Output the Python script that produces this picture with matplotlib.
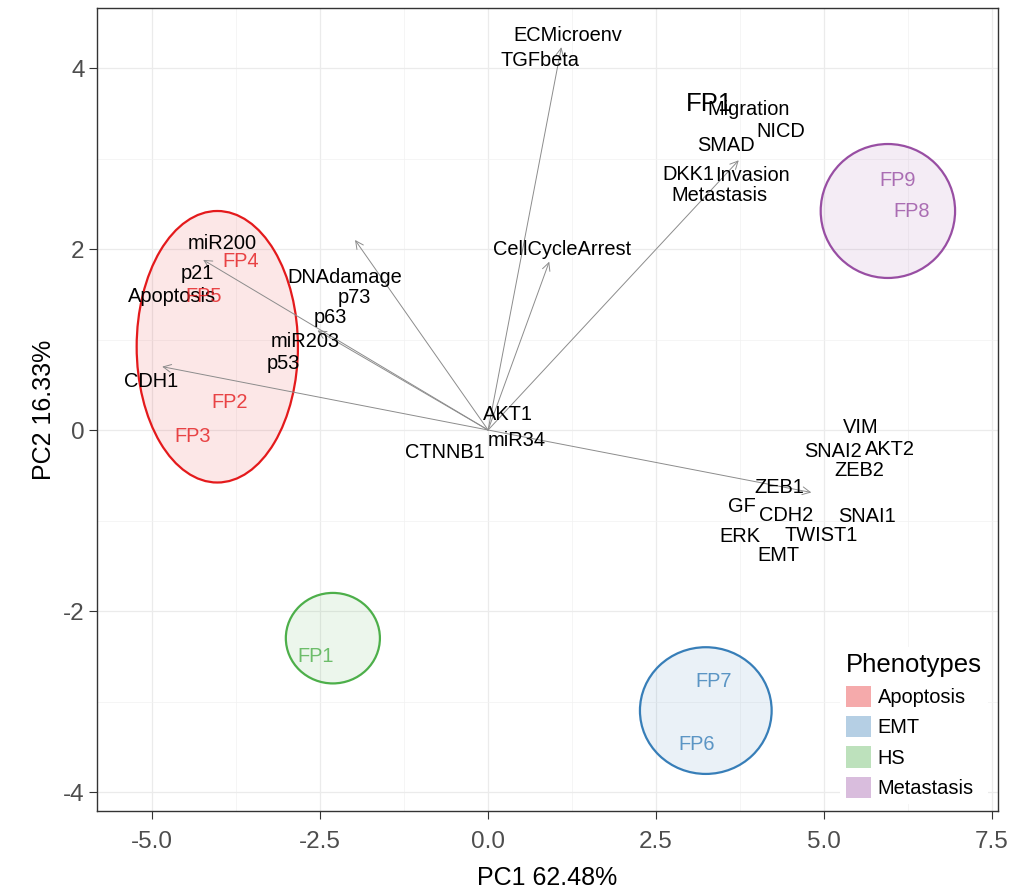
import matplotlib
matplotlib.use("Agg")
import matplotlib.pyplot as plt
from matplotlib.patches import Ellipse, Patch

plt.rcParams['font.family'] = ['Liberation Sans', 'DejaVu Sans']
plt.rcParams['axes.unicode_minus'] = False

# variable loadings (arrow tips)
arrow_x = [1.09, 0.91, 3.73, -1.98, -4.24, -2.54, -4.85, 4.81]
arrow_y = [4.23, 1.86, 2.98, 2.10, 1.88, 1.10, 0.70, -0.69]

# variable labels
var_names = ['ECMicroenv', 'TGFbeta', 'Migration', 'NICD', 'SMAD', 'DKK1', 'Invasion',
             'Metastasis', 'CellCycleArrest', 'miR200', 'p21', 'Apoptosis', 'DNAdamage',
             'p73', 'p63', 'miR203', 'p53', 'CDH1', 'AKT1', 'miR34', 'CTNNB1', 'VIM',
             'SNAI2', 'AKT2', 'ZEB2', 'ZEB1', 'GF', 'CDH2', 'SNAI1', 'ERK', 'TWIST1', 'EMT']
var_x = [1.19, 0.77, 3.87, 4.36, 3.54, 2.98, 3.94, 3.45, 1.10, -3.96, -4.32, -4.70, -2.14,
         -1.99, -2.34, -2.72, -3.05, -5.01, 0.30, 0.43, -0.64, 5.55, 5.13, 5.98, 5.52,
         4.33, 3.78, 4.43, 5.64, 3.74, 4.96, 4.32]
var_y = [4.36, 4.08, 3.54, 3.30, 3.14, 2.82, 2.81, 2.59, 1.99, 2.06, 1.73, 1.48, 1.68,
         1.46, 1.24, 0.98, 0.74, 0.54, 0.17, -0.12, -0.25, 0.03, -0.24, -0.21, -0.45,
         -0.64, -0.85, -0.95, -0.96, -1.18, -1.17, -1.39]

# samples
fp_names = ['FP4', 'FP5', 'FP2', 'FP3', 'FP1', 'FP7', 'FP6', 'FP9', 'FP8']
fp_x = [-3.68, -4.23, -3.84, -4.40, -2.56, 3.36, 3.10, 6.10, 6.31]
fp_y = [1.86, 1.48, 0.30, -0.07, -2.50, -2.78, -3.48, 2.76, 2.41]
fp_group = ['Apoptosis', 'Apoptosis', 'Apoptosis', 'Apoptosis', 'HS', 'EMT', 'EMT',
            'Metastasis', 'Metastasis']

# phenotype ellipses
groups = ['Apoptosis', 'EMT', 'HS', 'Metastasis']
colors = ['#E41A1C', '#377EB8', '#4DAF4A', '#984EA3']
ell_cx = [-4.03, 3.24, -2.31, 5.95]
ell_cy = [0.92, -3.10, -2.30, 2.42]
ell_w = [2.40, 1.96, 1.40, 2.00]
ell_h = [3.00, 1.40, 1.00, 1.48]

fig = plt.figure(figsize=(10.17, 8.89), dpi=100)
ax = fig.add_axes([0.0954, 0.0877, 0.886, 0.903])

for c, cx, cy, w, h in zip(colors, ell_cx, ell_cy, ell_w, ell_h):
    ax.add_patch(Ellipse((cx, cy), w, h, facecolor=c, alpha=0.1, edgecolor='none', zorder=2))
    ax.add_patch(Ellipse((cx, cy), w, h, facecolor='none', edgecolor=c, lw=1.6, zorder=3))

for x, y in zip(arrow_x, arrow_y):
    ax.annotate('', xy=(x, y), xytext=(0, 0),
                arrowprops=dict(arrowstyle='->', color='#8C8C8C', lw=0.7,
                                mutation_scale=14, shrinkA=0, shrinkB=0), zorder=4)

for n, x, y in zip(var_names, var_x, var_y):
    ax.text(x, y, n, ha='center', va='center', fontsize=14.4, color='black', zorder=5)

ax.text(3.30, 3.60, 'FP1', ha='center', va='center', fontsize=18.5, color='black', zorder=5)

cmap = dict(zip(groups, colors))
for n, x, y, g in zip(fp_names, fp_x, fp_y, fp_group):
    ax.text(x, y, n, ha='center', va='center', fontsize=14.4, color=cmap[g], alpha=0.8, zorder=5)

ax.set_xlim(-5.82, 7.59)
ax.set_ylim(-4.21, 4.66)
ax.set_xticks([-5.0, -2.5, 0.0, 2.5, 5.0, 7.5])
ax.set_xticklabels(['-5.0', '-2.5', '0.0', '2.5', '5.0', '7.5'])
ax.set_yticks([-4, -2, 0, 2, 4])
ax.set_xticks([-3.75, -1.25, 1.25, 3.75, 6.25], minor=True)
ax.set_yticks([-3, -1, 1, 3], minor=True)
ax.grid(True, which='major', color='#EBEBEB', lw=0.9, zorder=0)
ax.grid(True, which='minor', color='#F2F2F2', lw=0.5, zorder=0)
ax.set_axisbelow(True)
ax.tick_params(axis='both', which='major', labelsize=17.5, labelcolor='#4D4D4D',
               color='#333333', length=5.5, width=0.8)
ax.tick_params(axis='x', which='major', pad=9)
ax.tick_params(axis='both', which='minor', length=0)
for s in ax.spines.values():
    s.set_color('#333333')
    s.set_linewidth(1.0)

ax.set_xlabel('PC1 62.48%', fontsize=18, labelpad=9)
ax.set_ylabel('PC2 16.33%', fontsize=18, labelpad=5)

handles = [Patch(facecolor=c, alpha=0.37, edgecolor='none') for c in colors]
leg = ax.legend(handles, groups, title='Phenotypes', loc='upper left',
                bbox_to_anchor=(0.813, 0.217), fontsize=14.4, title_fontsize=18.5,
                handlelength=1.25, handleheight=1.25, handletextpad=0.35,
                labelspacing=0.45, borderpad=0.3, frameon=True, fancybox=False)
leg.get_frame().set_edgecolor('none')
leg.get_frame().set_facecolor('white')
leg.get_frame().set_alpha(1)
leg.set_zorder(2.4)
leg._legend_box.align = 'left'

fig.savefig('out.png', dpi=100)
